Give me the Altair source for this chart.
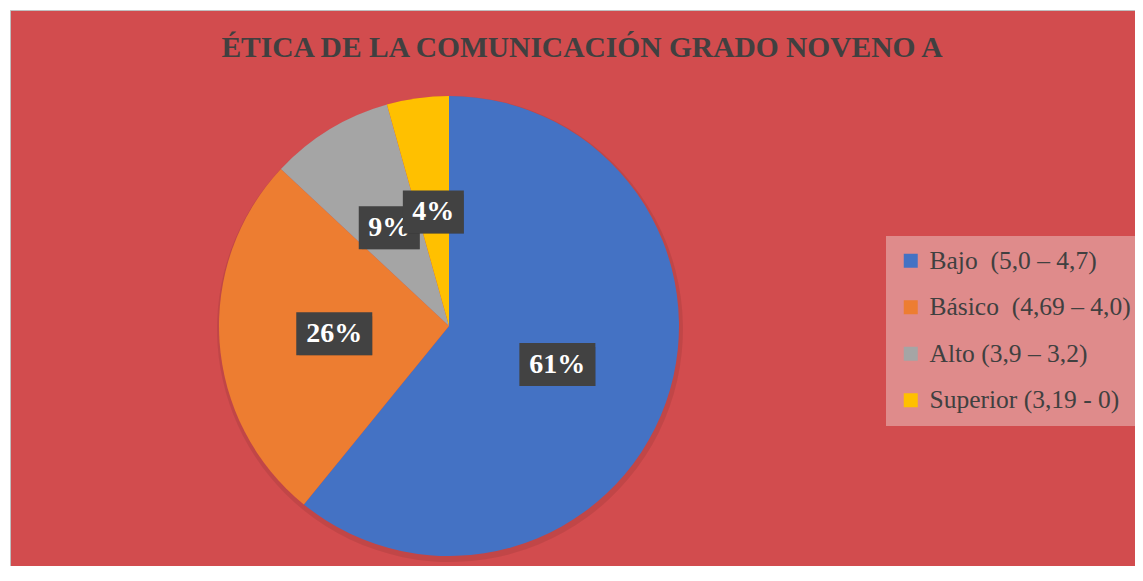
import altair as alt
import pandas as pd

# ---- data ----
categories = ["Bajo\u00a0 (5,0 – 4,7)", "Básico\u00a0 (4,69 – 4,0)", "Alto (3,9 – 3,2)", "Superior (3,19 - 0)"]
values = [14, 6, 2, 1]          # students per level (61%, 26%, 9%, 4%)
labels = ["61%", "26%", "9%", "4%"]
colors = ["#4472C4", "#ED7D31", "#A5A5A5", "#FFC000"]
title_text = "ÉTICA DE LA COMUNICACIÓN GRADO NOVENO A"

df = pd.DataFrame({"cat": categories, "value": values, "label": labels,
                   "order": list(range(len(categories)))})

W, H = 1127, 558
CX, CY, R = 441, 318, 230
LR = 115  # label radius
RED = "#D24C4E"
FONT = "Liberation Serif"

one = pd.DataFrame({"t": [title_text]})

bg = alt.Chart(one).mark_rect(fill=RED, stroke="#BFBFBF", strokeWidth=1).encode(
    x=alt.value(2.5), x2=alt.value(1300), y=alt.value(2.5), y2=alt.value(800))

title = alt.Chart(one).mark_text(font=FONT, fontWeight="bold", fontSize=29.5, color="#404040",
                                 align="center", baseline="alphabetic").encode(
    text="t:N", x=alt.value(574), y=alt.value(49))

base = alt.Chart(df)
theta = alt.Theta("value:Q", stack=True)

shadow = base.mark_arc(outerRadius=R + 3, color="#000000", opacity=0.08).encode(
    theta=theta, order=alt.Order("order:Q"), x=alt.value(CX + 1), y=alt.value(CY + 3))

pie = base.mark_arc(outerRadius=R).encode(
    theta=theta,
    order=alt.Order("order:Q"),
    color=alt.Color("cat:N", scale=alt.Scale(domain=categories, range=colors),
                    legend=alt.Legend(title=None, orient="none", legendX=878, legendY=228,
                                      fillColor="#DF8B8B", padding=12, rowPadding=19.5,
                                      symbolType="square", symbolSize=196, symbolStrokeWidth=0,
                                      labelFont=FONT, labelFontSize=25.5, labelColor="#404040",
                                      labelOffset=6, labelLimit=500)),
    x=alt.value(CX), y=alt.value(CY))

lab = (base.transform_joinaggregate(total="sum(value)")
       .transform_window(cum="sum(value)", sort=[alt.SortField("order")], frame=[None, 0])
       .transform_calculate(
           mid="(datum.cum - datum.value/2) / datum.total * 2 * PI",
           lx=f"{CX} + {LR} * sin(datum.mid)",
           ly=f"{CY} - {LR} * cos(datum.mid)",
           bw="15 * length(datum.label) + 31",
           bx1="datum.lx - datum.bw/2", bx2="datum.lx + datum.bw/2",
           by1="datum.ly - 21.5", by2="datum.ly + 21.5"))

layers = [bg, title, shadow, pie]
for i in range(len(categories)):
    f = lab.transform_filter(f"datum.order == {i}")
    layers.append(f.mark_rect(color="#000000", opacity=0.28, xOffset=3, yOffset=4).encode(
        x=alt.X("bx1:Q", scale=None), x2="bx2:Q", y=alt.Y("by1:Q", scale=None), y2="by2:Q"))
    layers.append(f.mark_rect(color="#424242").encode(
        x=alt.X("bx1:Q", scale=None), x2="bx2:Q", y=alt.Y("by1:Q", scale=None), y2="by2:Q"))
    layers.append(f.mark_text(font=FONT, fontWeight="bold", fontSize=28, color="white",
                              align="center", baseline="middle").encode(
        x=alt.X("lx:Q", scale=None), y=alt.Y("ly:Q", scale=None), text="label:N"))

chart = alt.layer(*layers).properties(
    width=W, height=H, padding=0, background="white",
    autosize=alt.AutoSizeParams(type="none")
).configure_view(strokeWidth=0)

chart.save("out.html", embed_options={"renderer": "svg", "actions": False})
